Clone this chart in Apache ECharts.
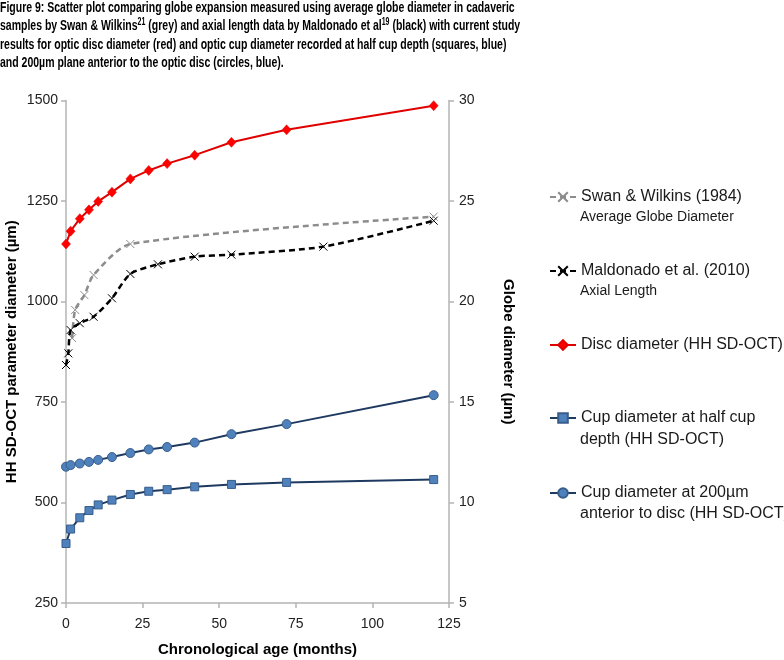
<!DOCTYPE html>
<html><head><meta charset="utf-8">
<script src="https://cdn.jsdelivr.net/npm/echarts@6/dist/echarts.min.js"></script>
<style>html,body{margin:0;padding:0;background:#fff}#c{width:784px;height:660px}</style>
</head><body><div id="c"></div>
<script>
// ---- data ----
var ageOCT = [0, 1.5, 4.5, 7.5, 10.5, 15, 21, 27, 33, 42, 54, 72, 120];
var discDiameter = [1143, 1175, 1206, 1228, 1249, 1272, 1305, 1326, 1343, 1364, 1396, 1427, 1487];
var cupHalfDepth = [398, 434, 462, 480, 494, 506, 520, 528, 532, 539, 545, 550, 557];
var cup200 = [589, 593, 597, 601, 606, 613, 623, 632, 638, 649, 670, 695, 767];
var ageMaldonado = [0, 0.75, 1.5, 4.5, 9, 15, 21, 30, 42, 54, 84, 120];
var maldonadoAxial = [16.84, 17.42, 18.58, 18.92, 19.24, 20.16, 21.37, 21.85, 22.23, 22.33, 22.73, 24.02];
var ageSwan = [2, 3, 6, 9, 21, 120];
var swanGlobe = [18.18, 19.58, 20.32, 21.32, 22.86, 24.22];
var xTicks = [0, 25, 50, 75, 100, 125];
var leftTicks = [250, 500, 750, 1000, 1250, 1500];
var rightTicks = [5, 10, 15, 20, 25, 30];
var seriesNames = ['Swan & Wilkins (1984)', 'Maldonado et al. (2010)', 'Disc diameter (HH SD-OCT)',
  'Cup diameter at half cup depth (HH SD-OCT)', 'Cup diameter at 200µm anterior to disc (HH SD-OCT)'];
var legendFirstLine = ['Swan & Wilkins (1984)', 'Maldonado et al. (2010)', 'Disc diameter (HH SD-OCT)',
  'Cup diameter at half cup', 'Cup diameter at 200µm'];
var legendSecondLine = ['Average Globe Diameter', 'Axial Length', '', 'depth (HH SD-OCT)', 'anterior to disc (HH SD-OCT)'];

function pairs(xs, ys) { return xs.map(function (x, i) { return [x, ys[i]]; }); }

var FONT = "'Liberation Sans', Arial, sans-serif";
var crossPath = 'path://M0,0L10,10M10,0L0,10';
var legendCenters = [197, 271, 345, 418, 493];
var legendSubCenters = [218, 292, 0, 441, 515];

var chart = echarts.init(document.getElementById('c'), null, {renderer: 'canvas'});

var legends = seriesNames.map(function (n, i) {
  return {
    data: [n], left: 549, top: legendCenters[i] - 9, orient: 'vertical', padding: 0,
    itemWidth: 26, itemHeight: 12, itemGap: 5, selectedMode: false,
    formatter: function () { return legendFirstLine[i]; },
    textStyle: {fontFamily: FONT, fontSize: 16, color: '#1a1a1a', lineHeight: 18}
  };
});

var graphics = [];
legendSecondLine.forEach(function (t, i) {
  if (!t) return;
  var fs = i < 2 ? 14 : 16;
  graphics.push({
    type: 'text', left: 580, top: legendSubCenters[i] - fs / 2 - 1,
    style: {text: t, font: fs + "px " + FONT, fill: '#1a1a1a'}
  });
});

var titleText =
  '{b|Figure 9: Scatter plot comparing globe expansion measured using average globe diameter in cadaveric}\n' +
  '{b|samples by Swan & Wilkins}{s|21}{b| (grey) and axial length data by Maldonado et al}{s|19}{b| (black) with current study}\n' +
  '{b|results for optic disc diameter (red) and optic cup diameter recorded at half cup depth (squares, blue)}\n' +
  '{b|and 200µm plane anterior to the optic disc (circles, blue).}';

graphics.push({
  type: 'text', left: 0, top: 0, scaleX: 0.70, scaleY: 1,
  style: {
    text: titleText,
    rich: {
      b: {fontFamily: FONT, fontWeight: 'bold', fontSize: 15, lineHeight: 18.5, fill: '#000'},
      s: {fontFamily: FONT, fontWeight: 'bold', fontSize: 10, lineHeight: 18.5, fill: '#000', padding: [0, 0, 7, 0]}
    }
  }
});

var axisLineStyle = {color: '#b4b4b4', width: 1.5};

var option = {
  animation: false,
  legend: legends,
  graphic: graphics,
  grid: {left: 66, right: 335, top: 100.5, bottom: 57, containLabel: false, outerBoundsMode: 'none'},
  xAxis: {
    type: 'value', min: 0, max: 125, interval: 25,
    name: 'Chronological age (months)', nameLocation: 'middle', nameGap: 39,
    nameTextStyle: {fontFamily: FONT, fontWeight: 'bold', fontSize: 15, color: '#000'},
    axisLine: {lineStyle: axisLineStyle}, axisTick: {show: true, length: 5, lineStyle: axisLineStyle},
    axisLabel: {fontFamily: FONT, fontSize: 14, color: '#222', margin: 14,
      formatter: function (v) { return xTicks.indexOf(v) >= 0 ? String(v) : ''; }},
    splitLine: {show: false}
  },
  yAxis: [{
    type: 'value', min: 250, max: 1500, interval: 250, position: 'left',
    name: 'HH SD-OCT parameter diameter (µm)', nameLocation: 'middle', nameGap: 47, nameRotate: 90,
    nameTextStyle: {fontFamily: FONT, fontWeight: 'bold', fontSize: 15, color: '#000'},
    axisLine: {show: true, lineStyle: axisLineStyle}, axisTick: {show: true, length: 5, lineStyle: axisLineStyle},
    axisLabel: {fontFamily: FONT, fontSize: 14, color: '#222', margin: 8,
      formatter: function (v) { return leftTicks.indexOf(v) >= 0 ? String(v) : ''; }},
    splitLine: {show: false}
  }, {
    type: 'value', min: 5, max: 30, interval: 5, position: 'right',
    name: 'Globe diameter (µm)', nameLocation: 'middle', nameGap: 52, nameRotate: -90,
    nameTextStyle: {fontFamily: FONT, fontWeight: 'bold', fontSize: 15, color: '#000'},
    axisLine: {show: true, lineStyle: axisLineStyle}, axisTick: {show: true, length: 5, lineStyle: axisLineStyle},
    axisLabel: {fontFamily: FONT, fontSize: 14, color: '#222', margin: 10,
      formatter: function (v) { return rightTicks.indexOf(v) >= 0 ? String(v) : ''; }},
    splitLine: {show: false}
  }],
  series: [{
    name: seriesNames[0], type: 'line', yAxisIndex: 1, data: pairs(ageSwan, swanGlobe),
    smooth: 0.25, symbol: crossPath, symbolSize: 8,
    lineStyle: {color: '#8c8c8c', width: 2.5, type: [6, 4]},
    itemStyle: {color: '#8c8c8c', borderColor: '#8c8c8c', borderWidth: 1}, z: 2
  }, {
    name: seriesNames[1], type: 'line', yAxisIndex: 1, data: pairs(ageMaldonado, maldonadoAxial),
    smooth: 0.25, symbol: crossPath, symbolSize: 8,
    lineStyle: {color: '#000', width: 2.5, type: [6, 4]},
    itemStyle: {color: '#000', borderColor: '#000', borderWidth: 1}, z: 3
  }, {
    name: seriesNames[2], type: 'line', yAxisIndex: 0, data: pairs(ageOCT, discDiameter),
    symbol: 'diamond', symbolSize: [9, 10],
    lineStyle: {color: '#e00000', width: 2},
    itemStyle: {color: '#ff0000', borderColor: '#e00000', borderWidth: 0.5}, z: 4
  }, {
    name: seriesNames[3], type: 'line', yAxisIndex: 0, data: pairs(ageOCT, cupHalfDepth),
    symbol: 'rect', symbolSize: 8,
    lineStyle: {color: '#1f3a60', width: 2},
    itemStyle: {color: '#4f81bd', borderColor: '#385d8a', borderWidth: 1}, z: 4
  }, {
    name: seriesNames[4], type: 'line', yAxisIndex: 0, data: pairs(ageOCT, cup200),
    symbol: 'circle', symbolSize: 9,
    lineStyle: {color: '#1f3a60', width: 2},
    itemStyle: {color: '#4f81bd', borderColor: '#385d8a', borderWidth: 1}, z: 4
  }]
};
chart.setOption(option);
</script>
</body></html>
